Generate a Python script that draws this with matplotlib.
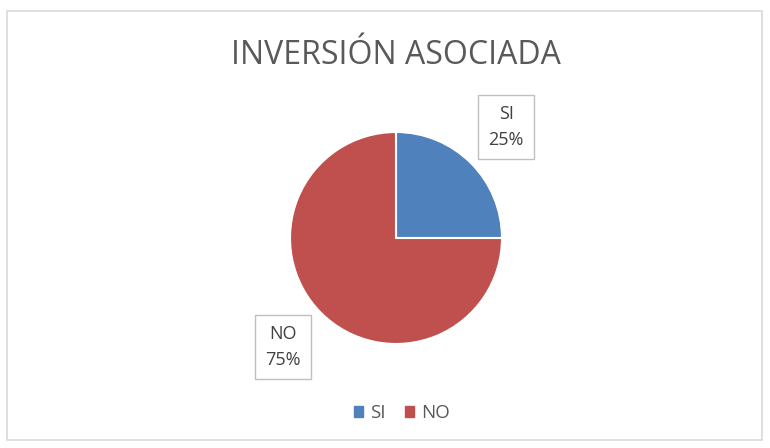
import matplotlib.pyplot as plt
from matplotlib.patches import Rectangle

labels = ['SI', 'NO']
values = [25, 75]
colors = ['#4F81BD', '#C0504D']

plt.rcParams['font.family'] = ['Open Sans', 'DejaVu Sans']

W, H = 770, 448
fig = plt.figure(figsize=(W / 100, H / 100), dpi=100)

# chart border
fig.patches.append(Rectangle((7 / W, 1 - 440 / H), 755 / W, 429 / H, transform=fig.transFigure,
                             fill=False, edgecolor='#D9D9D9', linewidth=1.2))

fig.text(396 / W, 1 - 56 / H, 'INVERSIÓN ASOCIADA', ha='center', va='center',
         fontsize=23, color='#595959')

cx, cy, r = 396, 238, 106
ax = fig.add_axes([(cx - r) / W, 1 - (cy + r) / H, 2 * r / W, 2 * r / H])
wedges, _ = ax.pie(values, colors=colors, startangle=90, counterclock=False,
                   wedgeprops=dict(edgecolor='white', linewidth=1.5))
ax.set_xlim(-1, 1)
ax.set_ylim(-1, 1)
ax.set_aspect('equal')

# data labels with boxes
label_pos = [(506, 127), (283, 347)]
for (px, py), lab, v in zip(label_pos, labels, values):
    fig.text(px / W, 1 - py / H, f'{lab}\n{v}%', ha='center', va='center',
             fontsize=13, color='#404040', linespacing=1.55,
             bbox=dict(boxstyle='square,pad=0.55', facecolor='white', edgecolor='#BFBFBF', linewidth=1))

handles = [Rectangle((0, 0), 1, 1, color=c) for c in colors]
fig.legend(handles, labels, loc='center', bbox_to_anchor=(402 / W, 1 - 413 / H), ncol=2,
           frameon=False, fontsize=13.5, labelcolor='#595959', handlelength=0.5, handleheight=0.5,
           handletextpad=0.4, columnspacing=1.0)

fig.savefig('out.png', dpi=100)
